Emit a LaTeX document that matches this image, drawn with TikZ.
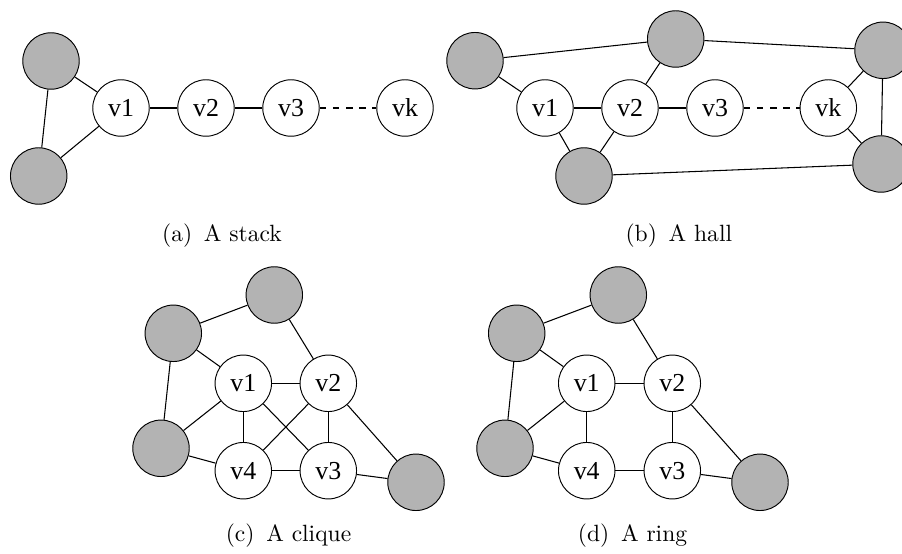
\documentclass[tikz,border=0pt]{standalone}
\usepackage{fontspec}
\newfontfamily\nodefont{Liberation Serif}[Ligatures=TeX]
\definecolor{grayfill}{RGB}{179,179,179}
\begin{document}
\begin{tikzpicture}[x=0.425pt,y=-0.425pt,
  vtx/.style={circle,draw,fill=white,minimum size=24pt,inner sep=0pt,font=\fontsize{11}{13}\selectfont\nodefont},
  gvtx/.style={circle,draw,fill=grayfill,minimum size=24pt,inner sep=0pt},
  captxt/.style={anchor=base,inner sep=0pt,font=\fontsize{10}{12}\selectfont},
  lnk/.style={draw,line width=0.45pt},
  dlnk/.style={draw,line width=0.45pt,dash pattern=on 2.8pt off 2.8pt}]
\useasboundingbox (0,0) rectangle (902,554);

% ---------- (a) A stack ----------
\node[gvtx] (a1) at (51,61) {};
\node[gvtx] (a2) at (38.7,176) {};
\node[vtx] (av1) at (121,108) {v1};
\node[vtx] (av2) at (206,108) {v2};
\node[vtx] (av3) at (291,108) {v3};
\node[vtx] (avk) at (405,108) {vk};
\path[lnk] (a1) -- (a2);
\path[lnk] (a1) -- (av1);
\path[lnk] (a2) -- (av1);
\path[lnk] (av1) -- (av2);
\path[lnk] (av2) -- (av3);
\path[dlnk] (av3) -- (avk);
\node[captxt] (capa) at (222,241.7) {(a)\hspace{0.5em}A stack};

% ---------- (b) A hall ----------
\node[gvtx] (b1) at (475,60.7) {};
\node[gvtx] (b2) at (675.7,39) {};
\node[gvtx] (b3) at (883,50.3) {};
\node[gvtx] (b4) at (881,164) {};
\node[gvtx] (b5) at (584,176) {};
\node[vtx] (bv1) at (545,108) {v1};
\node[vtx] (bv2) at (630,108) {v2};
\node[vtx] (bv3) at (715,108) {v3};
\node[vtx] (bvk) at (828.3,108) {vk};
\path[lnk] (b1) -- (b2);
\path[lnk] (b2) -- (b3);
\path[lnk] (b3) -- (b4);
\path[lnk] (b5) -- (b4);
\path[lnk] (b1) -- (bv1);
\path[lnk] (b2) -- (bv2);
\path[lnk] (bv1) -- (b5);
\path[lnk] (bv2) -- (b5);
\path[lnk] (bvk) -- (b3);
\path[lnk] (bvk) -- (b4);
\path[lnk] (bv1) -- (bv2);
\path[lnk] (bv2) -- (bv3);
\path[dlnk] (bv3) -- (bvk);
\node[captxt] (capb) at (678.8,241.7) {(b)\hspace{0.5em}A hall};

% ---------- (c) A clique ----------
\node[gvtx] (c1) at (274.3,295) {};
\node[gvtx] (c2) at (173.3,333.3) {};
\node[gvtx] (c3) at (161,448.3) {};
\node[gvtx] (c4) at (416,482.3) {};
\node[vtx] (cv1) at (243.3,383.3) {v1};
\node[vtx] (cv2) at (328.3,383.3) {v2};
\node[vtx] (cv3) at (328.3,470.7) {v3};
\node[vtx] (cv4) at (243.3,470.7) {v4};
\path[lnk] (c2) -- (c1);
\path[lnk] (c2) -- (cv1);
\path[lnk] (c2) -- (c3);
\path[lnk] (c1) -- (cv2);
\path[lnk] (c3) -- (cv1);
\path[lnk] (c3) -- (cv4);
\path[lnk] (cv2) -- (c4);
\path[lnk] (cv3) -- (c4);
\path[lnk] (cv1) -- (cv2);
\path[lnk] (cv1) -- (cv4);
\path[lnk] (cv1) -- (cv3);
\path[lnk] (cv2) -- (cv4);
\path[lnk] (cv2) -- (cv3);
\path[lnk] (cv4) -- (cv3);
\node[captxt] (capc) at (288.5,541) {(c)\hspace{0.5em}A clique};

% ---------- (d) A ring ----------
\node[gvtx] (d1) at (618.3,295) {};
\node[gvtx] (d2) at (516.7,333.3) {};
\node[gvtx] (d3) at (505,448.3) {};
\node[gvtx] (d4) at (760,482.3) {};
\node[vtx] (dv1) at (586.7,383.3) {v1};
\node[vtx] (dv2) at (672.3,383.3) {v2};
\node[vtx] (dv3) at (672.3,470.7) {v3};
\node[vtx] (dv4) at (586.7,470.7) {v4};
\path[lnk] (d2) -- (d1);
\path[lnk] (d2) -- (dv1);
\path[lnk] (d2) -- (d3);
\path[lnk] (d1) -- (dv2);
\path[lnk] (d3) -- (dv1);
\path[lnk] (d3) -- (dv4);
\path[lnk] (dv2) -- (d4);
\path[lnk] (dv3) -- (d4);
\path[lnk] (dv1) -- (dv2);
\path[lnk] (dv1) -- (dv4);
\path[lnk] (dv2) -- (dv3);
\path[lnk] (dv4) -- (dv3);
\node[captxt] (capd) at (632.5,541) {(d)\hspace{0.5em}A ring};
\end{tikzpicture}
\end{document}
